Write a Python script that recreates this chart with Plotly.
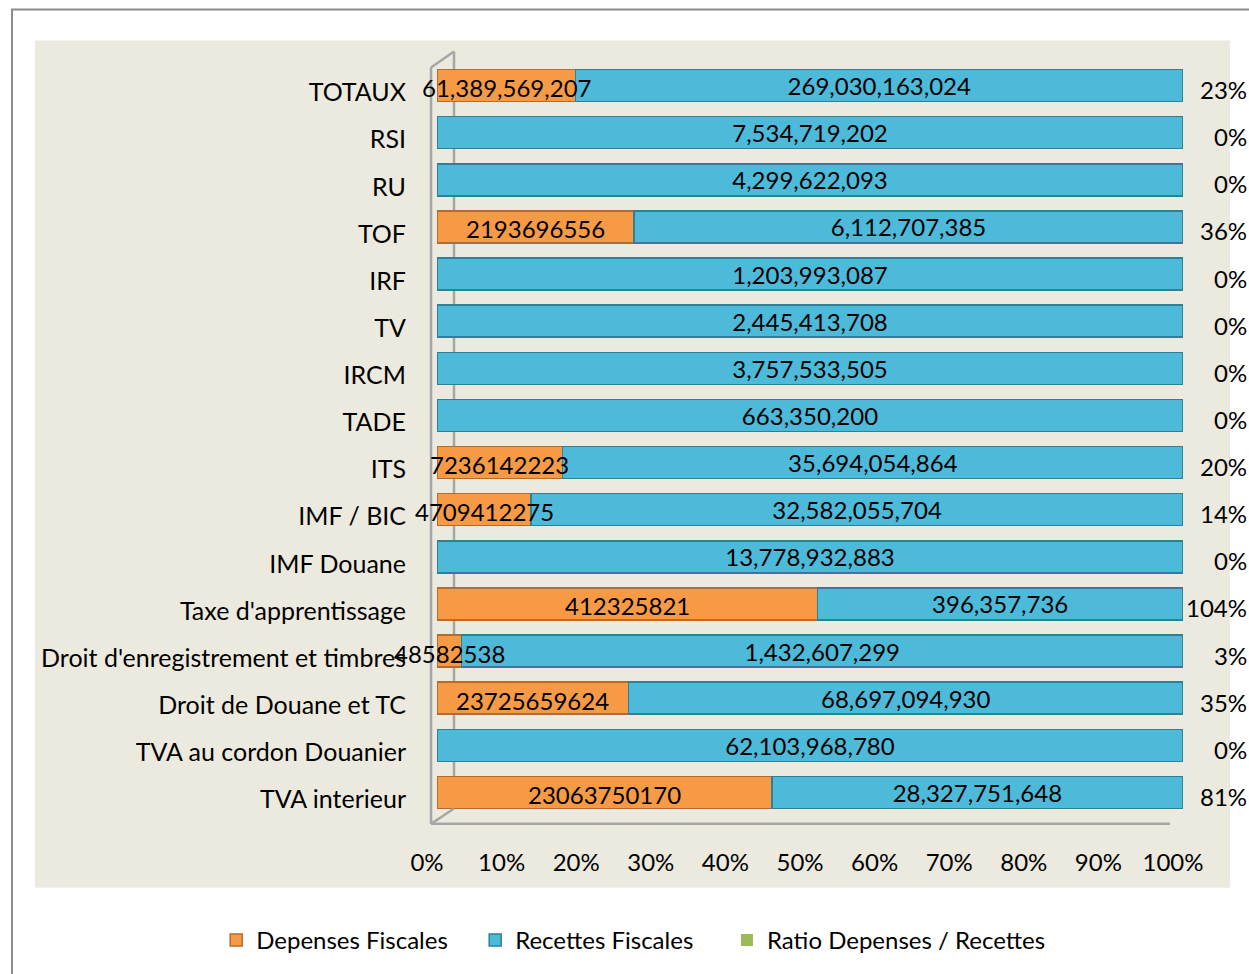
import plotly.graph_objects as go

categories = ["TOTAUX", "RSI", "RU", "TOF", "IRF", "TV", "IRCM", "TADE", "ITS",
              "IMF / BIC", "IMF Douane", "Taxe d'apprentissage",
              "Droit d'enregistrement et timbres", "Droit de Douane et TC",
              "TVA au cordon Douanier", "TVA interieur"]
depenses = [61389569207, 0, 0, 2193696556, 0, 0, 0, 0, 7236142223,
            4709412275, 0, 412325821, 48582538, 23725659624, 0, 23063750170]
recettes = [269030163024, 7534719202, 4299622093, 6112707385, 1203993087,
            2445413708, 3757533505, 663350200, 35694054864, 32582055704,
            13778932883, 396357736, 1432607299, 68697094930, 62103968780,
            28327751648]
ratio = [0.23, 0, 0, 0.36, 0, 0, 0, 0, 0.20, 0.14, 0, 1.04, 0.03, 0.35, 0, 0.81]
x_ticks = [0, 10, 20, 30, 40, 50, 60, 70, 80, 90, 100]

dep_labels = [("" if v == 0 else (f"{v:,}" if c == "TOTAUX" else str(v)))
              for c, v in zip(categories, depenses)]
rec_labels = [f"{v:,}" for v in recettes]
ratio_labels = [f"{r:.0%}" for r in ratio]
# centre of the orange segment in the 100 % stack (for its label)
dep_mid = [50.0 * d / (d + r + q) for d, r, q in zip(depenses, recettes, ratio)]

FONT = "Lato, 'Open Sans', sans-serif"
fs = 24
GRAY = "#A6A6A6"

fig = go.Figure()
fig.add_trace(go.Bar(
    y=categories, x=depenses, orientation="h", name="Depenses Fiscales",
    marker=dict(color="#F79A45", line=dict(color="#B86A2C", width=1.5)),
    legend="legend",
))
fig.add_trace(go.Bar(
    y=categories, x=recettes, orientation="h", name="Recettes Fiscales",
    marker=dict(color="#4DBADA", line=dict(color="#2F7F96", width=1.5)),
    text=rec_labels, textposition="inside", insidetextanchor="middle",
    constraintext="none", textfont=dict(color="black", size=fs, family=FONT),
    legend="legend",
))
fig.add_trace(go.Bar(
    y=categories, x=ratio, orientation="h", name="Ratio Depenses / Recettes",
    marker=dict(color="#9BBB59", line=dict(width=0)),
    legend="legend2",
))

# orange segment labels (drawn above all bars)
for c, xm, lab in zip(categories, dep_mid, dep_labels):
    if lab:
        fig.add_annotation(x=xm, xref="x", y=c, yref="y", text=lab,
                           showarrow=False, xanchor="center", yshift=-2,
                           font=dict(size=fs, family=FONT, color="black"))

# ratio labels at the right of each bar
for c, lab in zip(categories, ratio_labels):
    fig.add_annotation(x=1.0885, xref="paper", y=c, yref="y", text=lab,
                       showarrow=False, xanchor="right", yshift=-4,
                       font=dict(size=fs, family=FONT, color="black"))

# background panels
fig.add_shape(type="rect", xref="paper", yref="paper", x0=-0.5697, x1=1.2,
              y0=-0.3, y1=1.0697, line=dict(color="#8C8C8C", width=2),
              fillcolor="white", layer="below")
fig.add_shape(type="rect", xref="paper", yref="paper", x0=-0.539, x1=1.063,
              y0=-0.095, y1=1.0286, line=dict(width=0),
              fillcolor="#ECEADF", layer="below")
# 3D wall / floor lines
xf, xb = -0.008, 0.0228
yf0, yf1 = -0.0104, 0.9927
yb0, yb1 = 0.0100, 1.014
fig.add_shape(type="line", xref="paper", yref="paper", x0=xb, x1=xb,
              y0=yb0, y1=yb1, line=dict(color=GRAY, width=2.5), layer="below")
fig.add_shape(type="line", xref="paper", yref="paper", x0=xf, x1=xf,
              y0=yf0, y1=yf1, line=dict(color=GRAY, width=2.5))
fig.add_shape(type="line", xref="paper", yref="paper", x0=xf, x1=xb,
              y0=yf1, y1=yb1, line=dict(color=GRAY, width=2.5))
fig.add_shape(type="line", xref="paper", yref="paper", x0=xf, x1=xb,
              y0=yf0, y1=yb0, line=dict(color=GRAY, width=2.5))
fig.add_shape(type="line", xref="paper", yref="paper", x0=xf, x1=0.9826,
              y0=yf0, y1=yf0, line=dict(color=GRAY, width=2.5))

fig.update_layout(
    width=1249, height=974,
    barmode="stack", barnorm="percent", bargap=0.32,
    margin=dict(l=437, r=66, t=62, b=158, autoexpand=False),
    paper_bgcolor="white", plot_bgcolor="rgba(0,0,0,0)",
    font=dict(family=FONT, size=fs, color="black"),
    showlegend=True,
    legend=dict(orientation="h", x=-0.296, xanchor="left",
                y=-0.165, yanchor="middle", traceorder="normal",
                entrywidth=214, font=dict(size=fs, family=FONT),
                bgcolor="rgba(0,0,0,0)"),
    legend2=dict(orientation="h", x=0.3887, xanchor="left",
                 y=-0.165, yanchor="middle",
                 font=dict(size=fs, family=FONT),
                 bgcolor="rgba(0,0,0,0)"),
    xaxis=dict(range=[0, 100], tickvals=x_ticks,
               ticktext=[f"{v}%" for v in x_ticks],
               showgrid=False, zeroline=False, showline=False,
               ticklabelstandoff=30, ticklabelshift=-10,
               tickfont=dict(size=fs)),
    yaxis=dict(range=[len(categories) - 0.5, -0.5], showgrid=False,
               showline=False, ticklabelstandoff=30, ticklabelshift=-7,
               tickfont=dict(size=25)),
)

fig.write_html("out.html", config={"displayModeBar": False},
               post_script="document.body.style.margin='0';"
                           "document.body.style.overflow='hidden';")
